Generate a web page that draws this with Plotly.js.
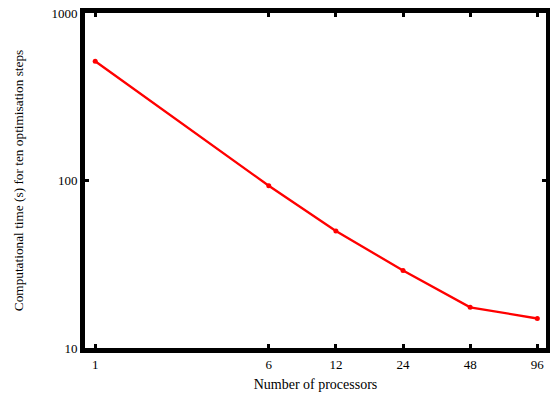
<!DOCTYPE html>
<html>
<head>
<meta charset="utf-8">
<script src="https://cdn.plot.ly/plotly-3.0.1.min.js"></script>
<style>html,body{margin:0;padding:0;background:#fff;}#chart{width:550px;height:402px;}</style>
</head>
<body>
<div id="chart"></div>
<script>
const processors = [1, 6, 12, 24, 48, 96];
const timeSeconds = [515, 93, 50, 29, 17.5, 15];
const xTickVals = [1, 6, 12, 24, 48, 96];
const xTickText = ['1', '6', '12', '24', '48', '96'];
const yTickVals = [10, 100, 1000];
const yTickText = ['10', '100', '1000'];

const font = {family: 'Liberation Serif', size: 13, color: '#000'};
const xTitleFont = {family: 'Liberation Serif', size: 14, color: '#000'};
const yTitleFont = {family: 'Liberation Serif', size: 13.3, color: '#000'};

Plotly.newPlot('chart', [{
  x: processors,
  y: timeSeconds,
  type: 'scatter',
  mode: 'lines+markers',
  line: {color: '#ff0000', width: 2.3},
  marker: {color: '#ff0000', size: 5},
  showlegend: false
}], {
  width: 550, height: 402,
  margin: {l: 85, r: 4, t: 13, b: 54},
  paper_bgcolor: '#fff', plot_bgcolor: '#fff',
  font: font,
  xaxis: {
    type: 'log',
    range: [Math.log10(0.9), Math.log10(105)],
    tickvals: xTickVals, ticktext: xTickText,
    showgrid: false, zeroline: false,
    showline: true, linecolor: '#000', linewidth: 5, mirror: 'ticks',
    ticks: 'inside', ticklen: 4, tickwidth: 3, tickcolor: '#000',
    tickfont: font,
    title: {text: 'Number of processors', font: xTitleFont, standoff: 10}
  },
  yaxis: {
    type: 'log',
    range: [1, 3],
    tickvals: yTickVals, ticktext: yTickText,
    showgrid: false, zeroline: false,
    showline: true, linecolor: '#000', linewidth: 5, mirror: 'ticks',
    ticks: 'inside', ticklen: 4, tickwidth: 3, tickcolor: '#000',
    tickfont: font,
    title: {text: 'Computational time (s) for ten optimisation steps', font: yTitleFont, standoff: 26}
  }
}, {displayModeBar: false, staticPlot: true});
</script>
</body>
</html>
